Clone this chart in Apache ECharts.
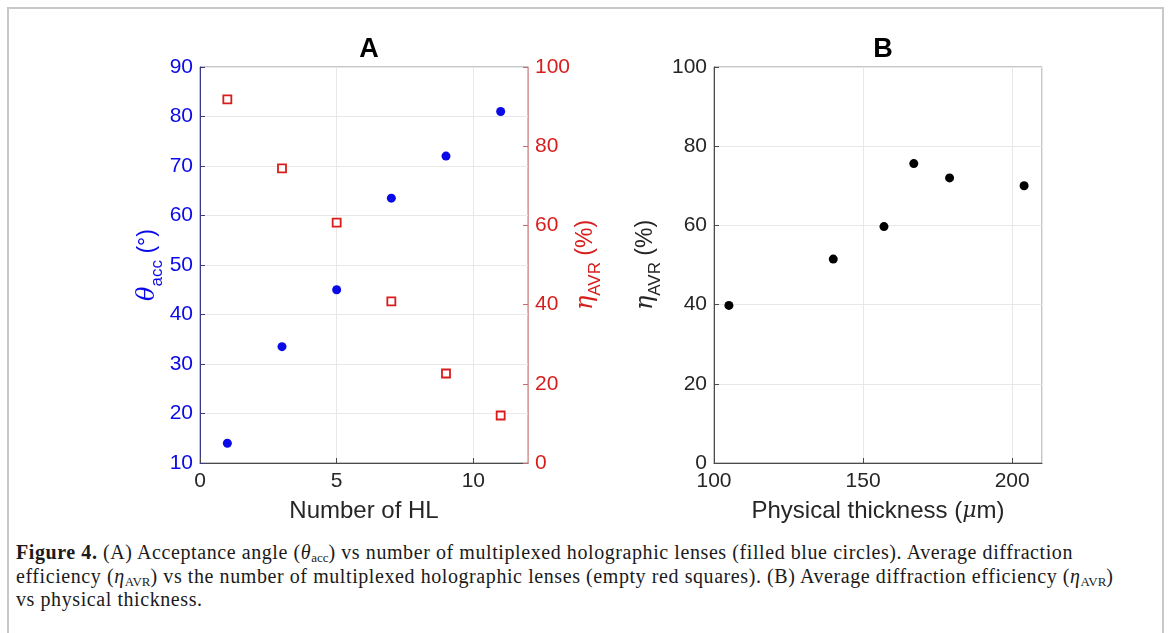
<!DOCTYPE html>
<html>
<head>
<meta charset="utf-8">
<script src="https://cdn.jsdelivr.net/npm/echarts@6/dist/echarts.min.js"></script>
<style>
  html, body { margin: 0; padding: 0; background: #fff; }
  #wrap { position: relative; width: 1170px; height: 633px; overflow: hidden; background: #fff; }
  #frame { position: absolute; left: 7px; top: 7px; width: 1153px; height: 700px; border: 2px solid #c8c8c8; border-bottom: none; }
  #chart { position: absolute; left: 0; top: 0; width: 1170px; height: 530px; }
  #caption { position: absolute; left: 16px; top: 541px; font-family: "Liberation Serif", "DejaVu Serif", serif; font-size: 20px; letter-spacing: 0.58px; line-height: 23.5px; color: #1a1a1a; white-space: nowrap; }
  #caption sub { font-size: 13px; vertical-align: -3px; line-height: 0; letter-spacing: 0; }
</style>
</head>
<body>
<div id="wrap">
  <div id="frame"></div>
  <div id="chart"></div>
  <div id="caption">
    <b>Figure 4.</b> (A) Acceptance angle (<i>θ</i><sub>acc</sub>) vs number of multiplexed holographic lenses (filled blue circles). Average diffraction<br>
    efficiency (<i>η</i><sub>AVR</sub>) vs the number of multiplexed holographic lenses (empty red squares). (B) Average diffraction efficiency (<i>η</i><sub>AVR</sub>)<br>
    vs physical thickness.
  </div>
</div>
<script>
// ---- Data ----
const hlCount = [1, 3, 5, 7, 9, 11];
const acceptanceAngle = [14, 33.5, 45, 63.5, 72, 81];
const efficiencyA = [91.8, 74.4, 60.7, 40.8, 22.6, 12.0];
const thickness = [105, 140, 157, 167, 179, 204];
const efficiencyB = [39.8, 51.5, 59.7, 75.6, 72.0, 70.0];

const BLUE = '#0a0ae8';
const RED = '#d81e1c';
const DARK = '#262626';
const FONT = '"Liberation Sans", Arial, sans-serif';
const TICK_FS = 21;

const chart = echarts.init(document.getElementById('chart'));

function pairs(xs, ys) { return xs.map((x, i) => [x, ys[i]]); }

const gridLine = { show: true, lineStyle: { color: '#e8e8e8', width: 1 } };

function nameRich(color) {
  return {
    color: color, fontFamily: FONT, fontSize: 23,
    rich: {
      g: { fontFamily: '"DejaVu Serif", serif', fontStyle: 'italic', fontSize: 24, color: color, verticalAlign: 'top', lineHeight: 30 },
      s: { fontFamily: FONT, fontSize: 17, color: color, verticalAlign: 'top', padding: [13, 0, 0, 0], lineHeight: 22 },
      t: { fontFamily: FONT, fontSize: 23, color: color, verticalAlign: 'top', lineHeight: 30 }
    }
  };
}

const option = {
  backgroundColor: 'transparent',
  animation: false,
  title: [
    { text: 'A', left: 364, top: 31, textAlign: 'center', textStyle: { fontFamily: FONT, fontSize: 27, fontWeight: 'bold', color: '#000' } },
    { text: 'B', left: 878, top: 31, textAlign: 'center', textStyle: { fontFamily: FONT, fontSize: 27, fontWeight: 'bold', color: '#000' } }
  ],
  grid: [
    { left: 200, top: 67, width: 328, height: 396, show: true, borderColor: '#8a8a8a', borderWidth: 1, backgroundColor: 'transparent' },
    { left: 714, top: 67, width: 328, height: 396, show: true, borderColor: '#8a8a8a', borderWidth: 1, backgroundColor: 'transparent' }
  ],
  xAxis: [
    {
      gridIndex: 0, type: 'value', min: 0, max: 12, interval: 5,
      name: 'Number of HL', nameLocation: 'middle', nameGap: 36,
      nameTextStyle: { fontFamily: FONT, fontSize: 24, color: DARK },
      axisLine: { show: true, lineStyle: { color: '#4a4a4a', width: 1 } },
      axisTick: { show: true, inside: true, length: 5, lineStyle: { color: '#4a4a4a' } },
      axisLabel: { fontFamily: FONT, fontSize: TICK_FS, color: DARK, margin: 8, showMaxLabel: false },
      splitLine: gridLine
    },
    {
      gridIndex: 1, type: 'value', min: 100, max: 210, interval: 50,
      name: '{t|Physical thickness (}{g|μ}{t|m)}', nameLocation: 'middle', nameGap: 36,
      nameTextStyle: {
        fontFamily: FONT, fontSize: 24, color: DARK,
        rich: {
          t: { fontFamily: FONT, fontSize: 24, color: DARK },
          g: { fontFamily: '"DejaVu Serif", serif', fontStyle: 'italic', fontSize: 22, color: DARK }
        }
      },
      axisLine: { show: true, lineStyle: { color: '#4a4a4a', width: 1 } },
      axisTick: { show: true, inside: true, length: 5, lineStyle: { color: '#4a4a4a' } },
      axisLabel: { fontFamily: FONT, fontSize: TICK_FS, color: DARK, margin: 8, showMaxLabel: false },
      splitLine: gridLine
    }
  ],
  yAxis: [
    {
      gridIndex: 0, type: 'value', min: 10, max: 90, interval: 10, position: 'left',
      name: '{g|θ}{s|acc}{t| (°)}', nameLocation: 'middle', nameGap: 32, nameRotate: 90,
      nameTextStyle: nameRich(BLUE),
      axisLine: { show: true, lineStyle: { color: '#3a3a8a', width: 1 } },
      axisTick: { show: true, inside: true, length: 5, lineStyle: { color: '#3a3a8a' } },
      axisLabel: { fontFamily: FONT, fontSize: TICK_FS, color: BLUE, margin: 7 },
      splitLine: gridLine
    },
    {
      gridIndex: 0, type: 'value', min: 0, max: 100, interval: 20, position: 'right',
      name: '{g|η}{s|AVR}{t| (%)}', nameLocation: 'middle', nameGap: 45, nameRotate: 90,
      nameTextStyle: nameRich(RED),
      axisLine: { show: true, lineStyle: { color: '#d8a0a0', width: 1 } },
      axisTick: { show: true, inside: true, length: 5, lineStyle: { color: '#c07070' } },
      axisLabel: { fontFamily: FONT, fontSize: TICK_FS, color: RED, margin: 7 },
      splitLine: { show: false }
    },
    {
      gridIndex: 1, type: 'value', min: 0, max: 100, interval: 20,
      name: '{g|η}{s|AVR}{t| (%)}', nameLocation: 'middle', nameGap: 50, nameRotate: 90,
      nameTextStyle: nameRich(DARK),
      axisLine: { show: true, lineStyle: { color: '#4a4a4a', width: 1 } },
      axisTick: { show: true, inside: true, length: 5, lineStyle: { color: '#4a4a4a' } },
      axisLabel: { fontFamily: FONT, fontSize: TICK_FS, color: DARK, margin: 7 },
      splitLine: gridLine
    }
  ],
  series: [
    {
      type: 'scatter', xAxisIndex: 0, yAxisIndex: 0,
      data: pairs(hlCount, acceptanceAngle),
      symbol: 'circle', symbolSize: 9,
      itemStyle: { color: BLUE, opacity: 1 }
    },
    {
      type: 'scatter', xAxisIndex: 0, yAxisIndex: 1,
      data: pairs(hlCount, efficiencyA),
      symbol: 'rect', symbolSize: 8,
      itemStyle: { color: '#fff', borderColor: RED, borderWidth: 1.8, opacity: 1 }
    },
    {
      type: 'scatter', xAxisIndex: 1, yAxisIndex: 2,
      data: pairs(thickness, efficiencyB),
      symbol: 'circle', symbolSize: 9,
      itemStyle: { color: '#000', opacity: 1 }
    }
  ]
};

chart.setOption(option);
</script>
</body>
</html>
